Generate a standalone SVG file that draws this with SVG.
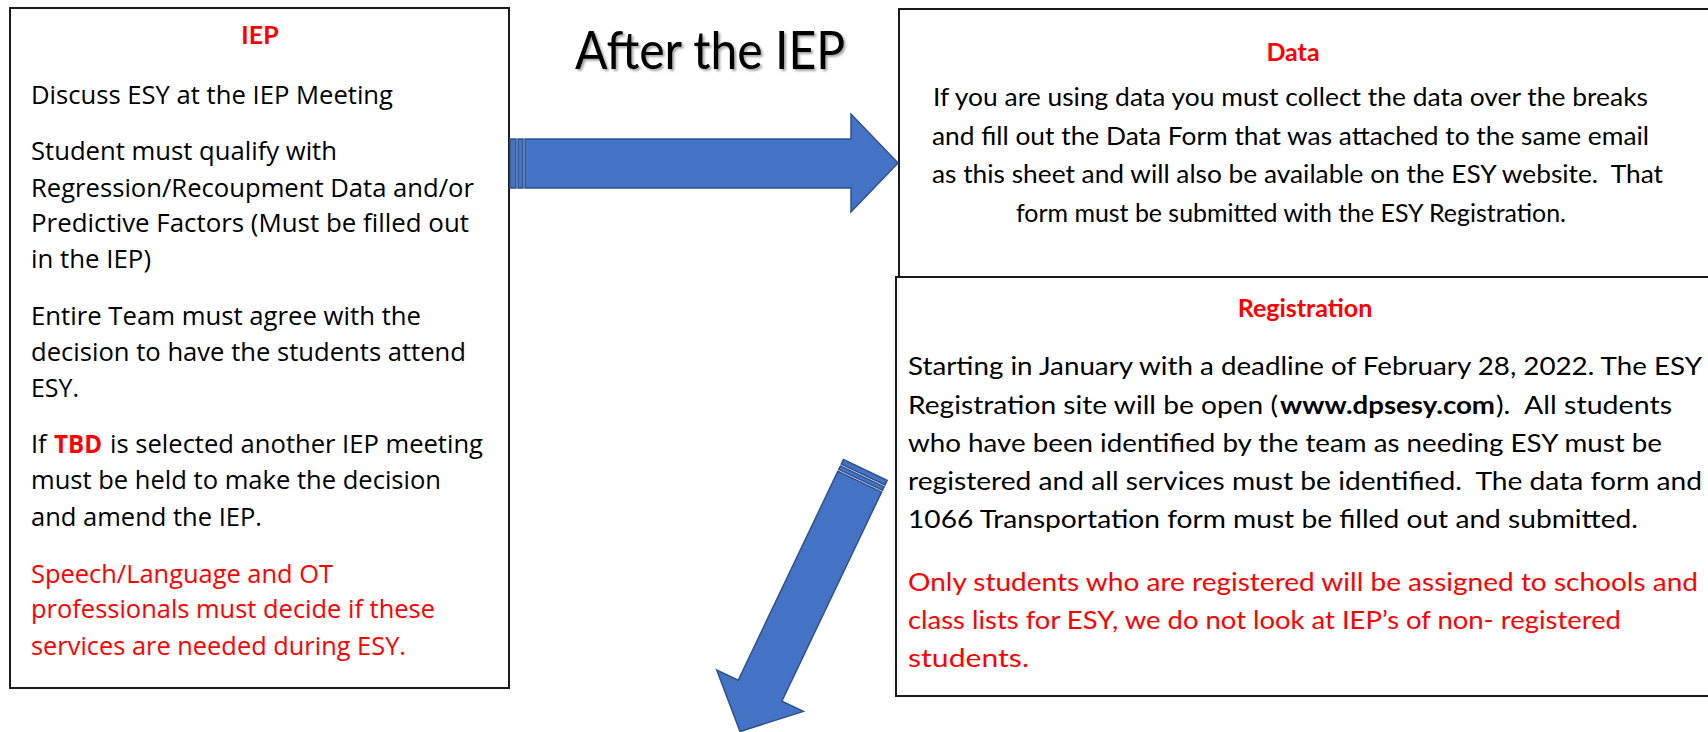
<svg xmlns="http://www.w3.org/2000/svg" width="1708" height="732" viewBox="0 0 1708 732">
<defs>
<style>
.box{fill:#fff;stroke:#1a1a1a;stroke-width:2}
.lt{font-family:"Open Sans","Liberation Sans",sans-serif;font-size:25.5px;fill:#000;white-space:pre}
.rt{font-family:Lato,"Liberation Sans",sans-serif;font-size:25px;fill:#000;white-space:pre}
.red{fill:#ff0000}
.hd{font-family:Lato,"Liberation Sans",sans-serif;font-size:25px;font-weight:bold;fill:#ff0000;text-anchor:middle}
.b{font-weight:bold}
.arr{fill:#4472c4;stroke:#2f528f;stroke-width:1.5;stroke-linejoin:miter}
.ttl{font-family:Lato,"Liberation Sans",sans-serif;font-size:53px;fill:#000}
</style>
<filter id="sh" x="-10%" y="-20%" width="130%" height="150%">
<feDropShadow dx="2" dy="2" stdDeviation="1.2" flood-color="#000" flood-opacity="0.35"/>
</filter>
</defs>

<text class="ttl" x="575" y="69" textLength="270" lengthAdjust="spacingAndGlyphs" filter="url(#sh)">After the IEP</text>

<g id="node-iep">
<rect class="box" x="10" y="8" width="499" height="680"/>
<text class="hd" x="260" y="44">IEP</text>
<text class="lt" x="31" y="104" textLength="362" lengthAdjust="spacingAndGlyphs">Discuss ESY at the IEP Meeting</text>
<text class="lt" x="31" y="160" textLength="306" lengthAdjust="spacingAndGlyphs">Student must qualify with</text>
<text class="lt" x="31" y="197" textLength="443" lengthAdjust="spacingAndGlyphs">Regression/Recoupment Data and/or</text>
<text class="lt" x="31" y="232" textLength="438" lengthAdjust="spacingAndGlyphs">Predictive Factors (Must be filled out</text>
<text class="lt" x="31" y="268" textLength="120" lengthAdjust="spacingAndGlyphs">in the IEP)</text>
<text class="lt" x="31" y="325" textLength="390" lengthAdjust="spacingAndGlyphs">Entire Team must agree with the</text>
<text class="lt" x="31" y="361" textLength="435" lengthAdjust="spacingAndGlyphs">decision to have the students attend</text>
<text class="lt" x="31" y="397" textLength="48" lengthAdjust="spacingAndGlyphs">ESY.</text>
<text class="lt" x="31" y="453">If </text>
<text class="lt b red" x="54" y="453" textLength="48" lengthAdjust="spacingAndGlyphs">TBD</text>
<text class="lt" x="110" y="453" textLength="373" lengthAdjust="spacingAndGlyphs">is selected another IEP meeting</text>
<text class="lt" x="31" y="489" textLength="410" lengthAdjust="spacingAndGlyphs">must be held to make the decision</text>
<text class="lt" x="31" y="526" textLength="231" lengthAdjust="spacingAndGlyphs">and amend the IEP.</text>
<text class="lt red" x="31" y="583" textLength="302" lengthAdjust="spacingAndGlyphs">Speech/Language and OT</text>
<text class="lt red" x="31" y="618" textLength="404" lengthAdjust="spacingAndGlyphs">professionals must decide if these</text>
<text class="lt red" x="31" y="655" textLength="375" lengthAdjust="spacingAndGlyphs">services are needed during ESY.</text>
</g>

<g id="node-data">
<rect class="box" x="899" y="9" width="820" height="268"/>
<text class="hd" x="1293" y="61">Data</text>
<text class="rt" x="933" y="106" textLength="715" lengthAdjust="spacingAndGlyphs">If you are using data you must collect the data over the breaks</text>
<text class="rt" x="932" y="145" textLength="717" lengthAdjust="spacingAndGlyphs">and fill out the Data Form that was attached to the same email</text>
<text class="rt" x="932" y="183" textLength="731" lengthAdjust="spacingAndGlyphs">as this sheet and will also be available on the ESY website.  That</text>
<text class="rt" x="1016" y="222" textLength="550" lengthAdjust="spacingAndGlyphs">form must be submitted with the ESY Registration.</text>
</g>

<g id="node-registration">
<rect class="box" x="896" y="277" width="820" height="419"/>
<text class="hd" x="1305" y="317">Registration</text>
<text class="rt" x="908" y="375" textLength="794" lengthAdjust="spacingAndGlyphs">Starting in January with a deadline of February 28, 2022. The ESY</text>
<text class="rt" x="908" y="414" textLength="370" lengthAdjust="spacingAndGlyphs">Registration site will be open (</text>
<text class="rt b" x="1280" y="414" textLength="215" lengthAdjust="spacingAndGlyphs">www.dpsesy.com</text>
<text class="rt" x="1496" y="414" textLength="176" lengthAdjust="spacingAndGlyphs">).  All students</text>
<text class="rt" x="908" y="452" textLength="754" lengthAdjust="spacingAndGlyphs">who have been identified by the team as needing ESY must be</text>
<text class="rt" x="908" y="490" textLength="794" lengthAdjust="spacingAndGlyphs">registered and all services must be identified.  The data form and</text>
<text class="rt" x="908" y="528" textLength="730" lengthAdjust="spacingAndGlyphs">1066 Transportation form must be filled out and submitted.</text>
<text class="rt red" x="908" y="591" textLength="790" lengthAdjust="spacingAndGlyphs">Only students who are registered will be assigned to schools and</text>
<text class="rt red" x="908" y="629" textLength="713" lengthAdjust="spacingAndGlyphs">class lists for ESY, we do not look at IEP’s of non- registered</text>
<text class="rt red" x="908" y="667" textLength="121" lengthAdjust="spacingAndGlyphs">students.</text>
</g>

<g id="connectors">
<g id="arrow-right">
<rect class="arr" x="510" y="139" width="6" height="49"/>
<rect class="arr" x="518" y="139" width="5" height="49"/>
<polygon class="arr" points="525,139 851,139 851,114 898,163 851,212 851,188 525,188"/>
</g>
<g id="arrow-down" transform="translate(865.3,470) rotate(115.5)">
<rect class="arr" x="0" y="-24.2" width="5" height="48.4"/>
<rect class="arr" x="7" y="-24.2" width="4" height="48.4"/>
<polygon class="arr" points="13,-24.2 244.5,-24.2 244.5,-48 290,0.5 244.5,48 244.5,24.2 13,24.2"/>
</g>
</g>
</svg>
